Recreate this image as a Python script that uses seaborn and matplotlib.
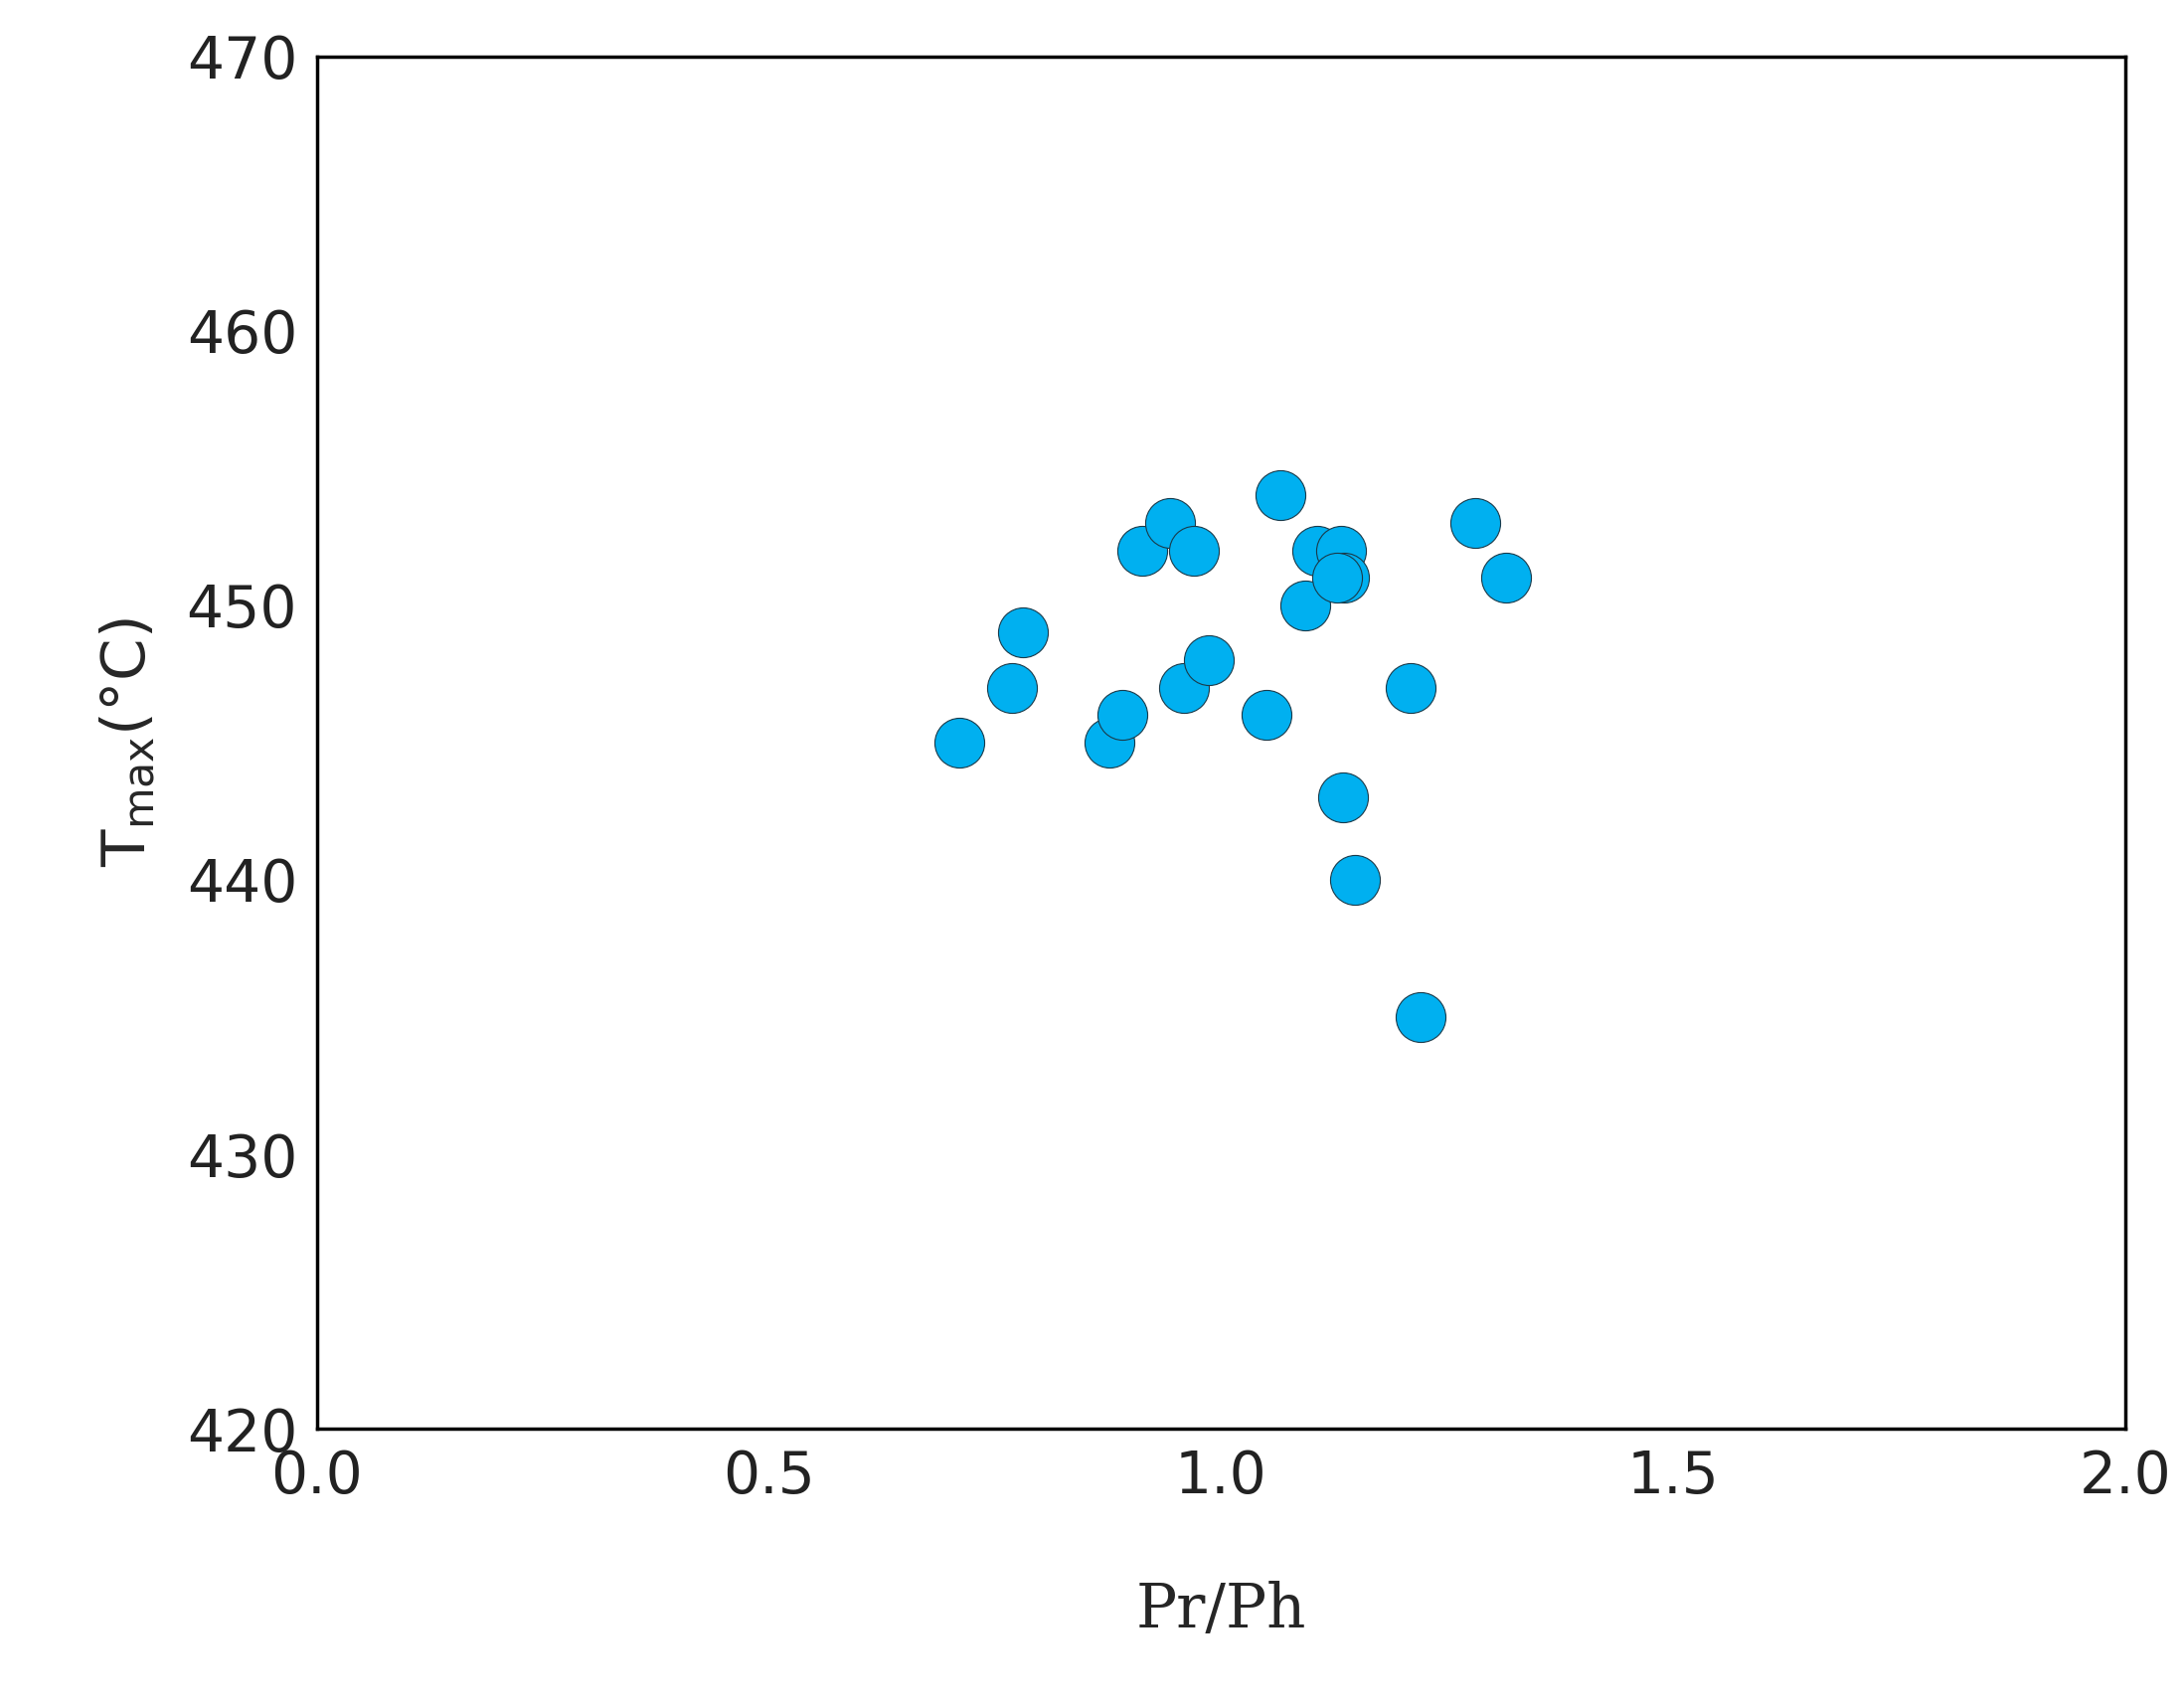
import matplotlib
matplotlib.use("Agg")
import matplotlib.pyplot as plt
import seaborn as sns
import pandas as pd

pr_ph = [0.711, 0.769, 0.781, 0.877, 0.891, 0.913, 0.944, 0.959, 0.970, 0.987, 1.050,
         1.066, 1.093, 1.106, 1.133, 1.136, 1.129, 1.135, 1.148, 1.210, 1.221, 1.281, 1.315]
tmax = [445, 447, 449, 445, 446, 452, 453, 447, 452, 448, 446,
        454, 450, 452, 452, 451, 451, 443, 440, 447, 435, 453, 451]
df = pd.DataFrame({"Pr/Ph": pr_ph, "Tmax": tmax})

sns.set_style("white")
fig = plt.figure(figsize=(21.97, 17.17), dpi=100)
ax = fig.add_axes([0.145, 0.163, 0.828, 0.804])
sns.scatterplot(data=df, x="Pr/Ph", y="Tmax", ax=ax, s=1300, color="#00B0F0",
                edgecolor="#1a3a4a", linewidth=0.8, zorder=3)
ax.set_xlim(0, 2.0)
ax.set_ylim(420, 470)
ax.set_xticks([0.0, 0.5, 1.0, 1.5, 2.0])
ax.set_xticklabels(["0.0", "0.5", "1.0", "1.5", "2.0"])
ax.set_yticks(range(420, 471, 10))
ax.tick_params(labelsize=42, length=0, pad=14, labelcolor="#222222")
for s in ax.spines.values():
    s.set_color("black"); s.set_linewidth(2.5)
ax.set_xlabel("Pr/Ph", family="DejaVu Serif", fontsize=44, labelpad=55)
ax.set_ylabel(r"T$_{\mathrm{max}}$(°C)", fontsize=44, labelpad=20)
fig.savefig("out.png", dpi=100)
